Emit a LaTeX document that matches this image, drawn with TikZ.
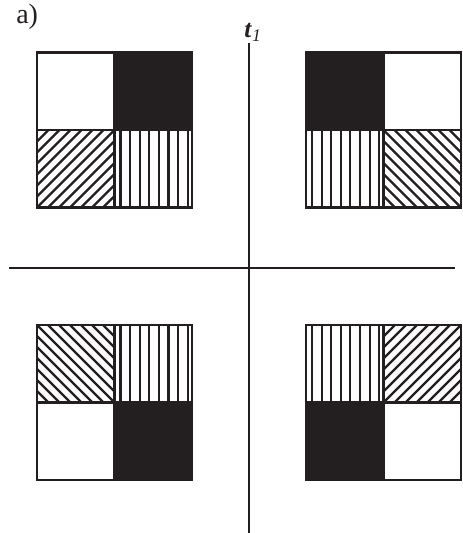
\documentclass[tikz,border=0pt]{standalone}
\usepackage{fontspec}
\setmainfont{Liberation Serif}
\usepackage{tikz}
\usetikzlibrary{positioning}
\definecolor{InkDark}{HTML}{231F20}

% one hatched cell of a block, lower left corner given
\newcommand{\cellvert}[2]{%
  \begin{scope}[shift={(#1,#2)}]
    \clip (0,0) rectangle (77.5,77.5);
    \foreach \k in {0,...,7}
      \draw[hatch] ({6+9.6*\k},0) -- ++(0,77.5);
  \end{scope}}
\newcommand{\cellrise}[2]{%
  \begin{scope}[shift={(#1,#2)}]
    \clip (0,0) rectangle (77.5,77.5);
    \foreach \c in {-77,-66,...,77}
      \draw[hatch] (\c,0) -- ++(77.5,77.5);
  \end{scope}}
\newcommand{\cellfall}[2]{%
  \begin{scope}[shift={(#1,#2)}]
    \clip (0,0) rectangle (77.5,77.5);
    \foreach \c in {-77,-66,...,77}
      \draw[hatch] (\c,77.5) -- ++(77.5,-77.5);
  \end{scope}}

\begin{document}
\begin{tikzpicture}[
  x=0.75pt,y=0.75pt,
  axis/.style={draw=InkDark,line width=1.5pt},
  frame/.style={draw=InkDark,line width=1.6pt},
  hatch/.style={draw=InkDark,line width=1.6pt},
  dark/.style={fill=InkDark},
  tag/.style={font=\fontsize{21}{24}\selectfont,text=InkDark,inner sep=0pt}
]
\useasboundingbox (0,0) rectangle (462,533);

% axes
\coordinate (xl) at (9,265);
\coordinate (xr) at (455,265);
\coordinate (yb) at (249,0);
\node[tag,font=\fontsize{19}{21}\selectfont] (t1) at (253,501)
  {\textbf{\textit{t}}\textsubscript{\textit{1}}};
\draw[axis] (xl) -- (xr);
\draw[axis] (yb) -- (249,490);

\node[tag,anchor=base west] (lbl) at (16,509) {a)};

% upper left block
\fill[dark] (114.5,403) rectangle (192,480.5);
\cellrise{37}{325.5}
\cellvert{114.5}{325.5}
\draw[frame] (37,325.5) rectangle (192,480.5);
\draw[frame] (114.5,325.5) -- (114.5,480.5) (37,403) -- (192,403);

% upper right block
\fill[dark] (306,403) rectangle (383.5,480.5);
\cellvert{306}{325.5}
\cellfall{383.5}{325.5}
\draw[frame] (306,325.5) rectangle (461,480.5);
\draw[frame] (383.5,325.5) -- (383.5,480.5) (306,403) -- (461,403);

% lower left block
\fill[dark] (114.5,53) rectangle (192,130.5);
\cellfall{37}{130.5}
\cellvert{114.5}{130.5}
\draw[frame] (37,53) rectangle (192,208);
\draw[frame] (114.5,53) -- (114.5,208) (37,130.5) -- (192,130.5);

% lower right block
\fill[dark] (306,53) rectangle (383.5,130.5);
\cellvert{306}{130.5}
\cellrise{383.5}{130.5}
\draw[frame] (306,53) rectangle (461,208);
\draw[frame] (383.5,53) -- (383.5,208) (306,130.5) -- (461,130.5);

\end{tikzpicture}
\end{document}
